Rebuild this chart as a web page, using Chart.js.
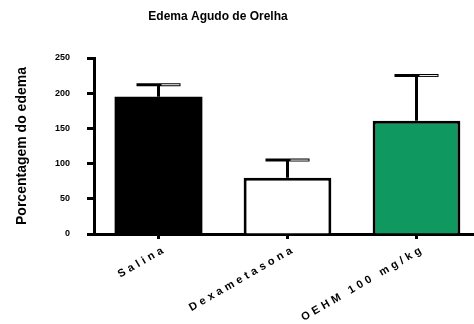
<!DOCTYPE html>
<html>
<head>
<meta charset="utf-8">
<script src="https://cdn.jsdelivr.net/npm/chart.js@4"></script>
<style>
  html, body { margin: 0; padding: 0; overflow: hidden; background: #fff; }
</style>
</head>
<body>
<canvas id="edemaChart" width="490" height="324"></canvas>
<script>
// dados
const groups = ['Salina', 'Dexametasona', 'OEHM 100 mg/kg'];
const edemaMeans = [195, 80, 161];
const edemaSem = [17, 25, 64];
const barColors = ['#000000', '#ffffff', '#0f9960'];
const yStep = 50;
const yMax = 250;
const chartTitle = 'Edema Agudo de Orelha';
const yTitle = 'Porcentagem do edema';

const FONT = "'Liberation Sans', Arial, sans-serif";
const LABEL_SPACING = 3.6;

// barras de erro (média + EPM), só para cima
const errorBars = {
  id: 'errorBars',
  afterDatasetsDraw(chart) {
    const ctx = chart.ctx;
    const y = chart.scales.y;
    chart.getDatasetMeta(0).data.forEach((bar, i) => {
      const top = y.getPixelForValue(edemaMeans[i] + edemaSem[i]);
      ctx.save();
      ctx.strokeStyle = '#000';
      ctx.lineWidth = 3;
      ctx.beginPath();
      ctx.moveTo(bar.x, bar.y);
      ctx.lineTo(bar.x, top);
      ctx.moveTo(bar.x - 22, top);
      ctx.lineTo(bar.x + 22, top);
      ctx.stroke();
      ctx.strokeStyle = '#fff';
      ctx.lineWidth = 1;
      ctx.beginPath();
      ctx.moveTo(bar.x + 3, top);
      ctx.lineTo(bar.x + 21, top);
      ctx.stroke();
      ctx.restore();
    });
  }
};

// título e rótulos inclinados do eixo x
const textLayer = {
  id: 'textLayer',
  afterDraw(chart) {
    const ctx = chart.ctx;
    const x = chart.scales.x;
    ctx.save();
    ctx.fillStyle = '#000';
    ctx.font = 'bold 12px ' + FONT;
    ctx.textAlign = 'center';
    ctx.textBaseline = 'middle';
    ctx.fillText(chartTitle, 218, 17);

    ctx.font = 'bold 11px ' + FONT;
    ctx.letterSpacing = LABEL_SPACING + 'px';
    ctx.textAlign = 'right';
    groups.forEach((g, i) => {
      ctx.save();
      ctx.translate(x.getPixelForTick(i) + 4, 250);
      ctx.rotate(-30 * Math.PI / 180);
      ctx.fillText(g, LABEL_SPACING, 0);
      ctx.restore();
    });
    ctx.restore();
  }
};

new Chart(document.getElementById('edemaChart'), {
  type: 'bar',
  data: {
    labels: groups,
    datasets: [{
      data: edemaMeans,
      backgroundColor: barColors,
      borderColor: '#000',
      borderWidth: [0, 3, 3],
      barPercentage: 0.68,
      categoryPercentage: 1
    }]
  },
  options: {
    responsive: false,
    animation: false,
    devicePixelRatio: 1,
    layout: { padding: { left: 0, right: 9, top: 58, bottom: 0 } },
    plugins: {
      legend: { display: false },
      tooltip: { enabled: false }
    },
    scales: {
      x: {
        offset: true,
        grid: { offset: false, drawOnChartArea: false, tickLength: 5, tickWidth: 3, tickColor: '#000' },
        border: { display: true, width: 3, color: '#000' },
        ticks: { display: false },
        afterFit(scale) { scale.height = 90; }
      },
      y: {
        min: 0,
        max: yMax,
        ticks: {
          stepSize: yStep,
          color: '#000',
          padding: 17,
          font: { family: FONT, size: 9, weight: 'bold' }
        },
        grid: { drawOnChartArea: false, tickLength: 7, tickWidth: 3, tickColor: '#000' },
        border: { display: true, width: 3, color: '#000' },
        title: {
          display: true,
          text: yTitle,
          color: '#000',
          padding: { top: 14, bottom: 0 },
          font: { family: FONT, size: 14, weight: 'bold' }
        },
        afterFit(scale) { scale.width = 94; }
      }
    }
  },
  plugins: [errorBars, textLayer]
});
</script>
</body>
</html>
